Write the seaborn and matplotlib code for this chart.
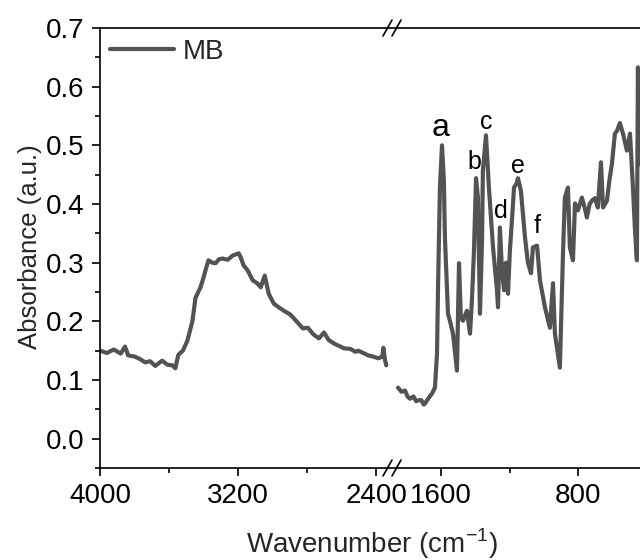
import matplotlib
matplotlib.use("Agg")
import matplotlib.pyplot as plt
import matplotlib.lines as mlines
from matplotlib.ticker import MultipleLocator
import numpy as np
import pandas as pd
import seaborn as sns

# FTIR spectrum of MB, high-wavenumber segment (cm-1, absorbance)
wn_high = [4000, 3960, 3920, 3880, 3855, 3837, 3800, 3770, 3738, 3710, 3680, 3640,
           3610, 3581, 3564, 3546, 3520, 3494, 3465, 3447, 3418, 3400, 3389, 3372,
           3350, 3331, 3310, 3290, 3260, 3232, 3197, 3185, 3168, 3145, 3116, 3090,
           3069, 3046, 3023, 2993, 2965, 2935, 2900, 2877, 2850, 2825, 2796, 2765,
           2732, 2703, 2675, 2644, 2615, 2586, 2550, 2520, 2505, 2475, 2447, 2420,
           2388, 2365, 2359, 2350, 2342]
abs_high = [0.150, 0.146, 0.152, 0.145, 0.157, 0.142, 0.140, 0.136, 0.130, 0.132, 0.124, 0.133,
            0.126, 0.125, 0.120, 0.143, 0.150, 0.167, 0.200, 0.240, 0.258, 0.275, 0.287, 0.304,
            0.300, 0.299, 0.306, 0.307, 0.305, 0.312, 0.316, 0.309, 0.295, 0.287, 0.270, 0.265,
            0.258, 0.278, 0.247, 0.230, 0.224, 0.218, 0.212, 0.205, 0.196, 0.188, 0.189, 0.178,
            0.171, 0.181, 0.168, 0.162, 0.158, 0.154, 0.153, 0.148, 0.150, 0.146, 0.142, 0.140,
            0.137, 0.140, 0.155, 0.135, 0.125]

# Fingerprint segment
wn_low = [1850, 1830, 1809, 1795, 1780, 1760, 1745, 1734, 1715, 1700, 1693, 1670,
          1652, 1635, 1623, 1617, 1606, 1594, 1583, 1577, 1559, 1548, 1530, 1507,
          1495, 1484, 1472, 1449, 1431, 1420, 1408, 1396, 1385, 1373, 1361, 1356,
          1338, 1321, 1297, 1274, 1268, 1257, 1245, 1233, 1222, 1210, 1199, 1187,
          1175, 1160, 1152, 1135, 1111, 1094, 1076, 1065, 1041, 1024, 995, 966,
          948, 937, 908, 890, 879, 861, 850, 832, 820, 803, 780, 765,
          751, 735, 721, 704, 687, 669, 657, 634, 620, 605, 588, 575,
          559, 541, 518, 500, 483, 471, 460, 454, 448, 430, 410]
abs_low = [0.087, 0.080, 0.082, 0.072, 0.068, 0.072, 0.064, 0.065, 0.066, 0.058, 0.060, 0.070,
           0.077, 0.087, 0.145, 0.258, 0.428, 0.500, 0.440, 0.343, 0.213, 0.201, 0.179, 0.116,
           0.299, 0.206, 0.201, 0.218, 0.179, 0.235, 0.320, 0.444, 0.411, 0.213, 0.338, 0.457,
           0.517, 0.428, 0.326, 0.253, 0.224, 0.360, 0.287, 0.253, 0.300, 0.247, 0.320, 0.372,
           0.428, 0.435, 0.444, 0.423, 0.343, 0.300, 0.282, 0.326, 0.329, 0.270, 0.224, 0.189,
           0.265, 0.179, 0.121, 0.316, 0.411, 0.428, 0.326, 0.304, 0.401, 0.389, 0.411, 0.395,
           0.377, 0.400, 0.406, 0.410, 0.394, 0.471, 0.394, 0.406, 0.440, 0.469, 0.520, 0.525,
           0.538, 0.520, 0.491, 0.520, 0.428, 0.355, 0.304, 0.633, 0.500, 0.450, 0.420]

# Band labels
band_names = ["a", "b", "c", "d", "e", "f"]
band_wn = [1600, 1408, 1338, 1251, 1152, 1041]
band_y = [0.530, 0.472, 0.540, 0.388, 0.465, 0.363]
band_size = [23, 18, 18, 18, 18, 18]

series_name = "MB"
y_ticks = [0.0, 0.1, 0.2, 0.3, 0.4, 0.5, 0.6, 0.7]

sns.set_theme(style="ticks")
plt.rcParams["font.family"] = ["Liberation Sans", "DejaVu Sans"]
plt.rcParams["mathtext.fontset"] = "custom"
plt.rcParams["mathtext.rm"] = "Liberation Sans"

W, H = 640, 560
fig = plt.figure(figsize=(W / 100, H / 100), dpi=100)

def px_box(x0, x1, y_top, y_bot):
    return [x0 / W, 1 - y_bot / H, (x1 - x0) / W, (y_bot - y_top) / H]

x_break = 389.4
ax1 = fig.add_axes(px_box(100, x_break, 28, 468))
ax2 = fig.add_axes(px_box(x_break, 647.2, 28, 468), sharey=ax1)

line_color = "#535353"
lw = 3.0
df_high = pd.DataFrame({"Wavenumber": wn_high, "Absorbance": abs_high, "Sample": series_name})
df_low = pd.DataFrame({"Wavenumber": wn_low, "Absorbance": abs_low, "Sample": series_name})
sns.lineplot(data=df_high, x="Wavenumber", y="Absorbance", ax=ax1,
             color=line_color, lw=lw, legend=False)
sns.lineplot(data=df_low, x="Wavenumber", y="Absorbance", ax=ax2,
             color=line_color, lw=lw, legend=False)

ax1.set_xlim(4000, 2324)
ax2.set_xlim(1900, 400)
ax1.set_ylim(-0.05, 0.7)

for ax in (ax1, ax2):
    ax.set_xlabel("")
    ax.set_ylabel("")
    for s in ax.spines.values():
        s.set_linewidth(1.2)
        s.set_color("black")
    ax.tick_params(axis="both", which="major", direction="out", length=6, width=1.2,
                   labelsize=20, colors="black", pad=5)
    ax.tick_params(axis="both", which="minor", direction="out", length=3.5, width=1.2,
                   colors="black")

ax1.spines["right"].set_visible(False)
ax2.spines["left"].set_visible(False)
ax2.spines["right"].set_visible(False)
ax2.tick_params(axis="y", which="both", left=False, labelleft=False)

ax1.set_xticks([4000, 3200, 2400])
ax1.xaxis.set_minor_locator(MultipleLocator(400))
ax2.set_xticks([1600, 800])
ax2.xaxis.set_minor_locator(MultipleLocator(400))
ax1.set_yticks(y_ticks)
ax1.set_yticklabels([f"{v:.1f}" for v in y_ticks])
ax1.yaxis.set_minor_locator(MultipleLocator(0.05))

for name, x, y, fs in zip(band_names, band_wn, band_y, band_size):
    ax2.text(x, y, name, fontsize=fs, ha="center", va="center", color="black")

handle = mlines.Line2D([], [], color=line_color, lw=lw)
ax1.legend([handle], [series_name], loc="center left", bbox_to_anchor=(0.035, 0.945),
           frameon=False, fontsize=20, handlelength=2.3, handletextpad=0.3,
           borderpad=0, borderaxespad=0)

fig.text(30 / W, 1 - 247 / H, "Absorbance (a.u.)", rotation=90, ha="center", va="center",
         fontsize=18.5)
fig.text(372 / W, 1 - 553 / H, "Wavenumber (cm$^{-1}$)", ha="center", va="baseline",
         fontsize=20)

# axis break marks on top and bottom spines
for yc in (28, 468):
    for dx in (0, 9):
        x0 = 383 + dx
        fig.add_artist(mlines.Line2D([x0 / W, (x0 + 9) / W],
                                     [1 - (yc + 8) / H, 1 - (yc - 8) / H],
                                     color="black", lw=1.2, transform=fig.transFigure))

fig.savefig("out.png", dpi=100)
